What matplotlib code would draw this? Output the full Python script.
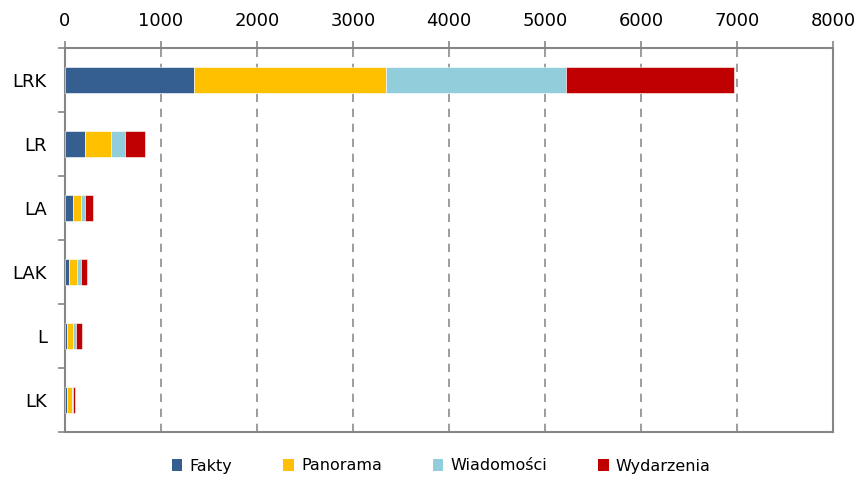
import matplotlib
matplotlib.use("Agg")
import matplotlib.pyplot as plt
from matplotlib.patches import Patch
import numpy as np

categories = ["LRK", "LR", "LA", "LAK", "L", "LK"]
series_names = ["Fakty", "Panorama", "Wiadomości", "Wydarzenia"]
fakty = [1340, 210, 85, 42, 18, 18]
panorama = [2000, 270, 85, 86, 69, 52]
wiadomosci = [1880, 140, 40, 42, 24, 14]
wydarzenia = [1750, 215, 80, 62, 62, 20]
colors = ["#365F91", "#FFC000", "#92CDDC", "#C00000"]
xticks = [0, 1000, 2000, 3000, 4000, 5000, 6000, 7000, 8000]

plt.rcParams['font.family'] = ['DejaVu Sans']
fig = plt.figure(figsize=(8.62, 4.78), dpi=100)
ax = fig.add_axes([65/862, 1 - 432/478, (833-65)/862, (432-48)/478])

y = np.arange(len(categories))
left = np.zeros(len(categories))
for vals, c, name in zip([fakty, panorama, wiadomosci, wydarzenia], colors, series_names):
    ax.barh(y, vals, left=left, height=0.4, color=c, edgecolor="white", linewidth=0.4, label=name, zorder=3)
    left += np.array(vals)

ax.set_ylim(len(categories) - 0.5, -0.5)
ax.set_xlim(0, 8000)
ax.set_xticks(xticks)
ax.set_xticklabels([str(v) for v in xticks], fontsize=13)
ax.xaxis.tick_top()
ax.tick_params(axis='x', direction='out', length=5, color='#868686', pad=8, width=1.2)
ax.set_yticks(y)
ax.set_yticklabels(categories, fontsize=13)
ax.tick_params(axis='y', length=0, pad=13)
ax.set_yticks(np.arange(-0.5, len(categories), 1), minor=True)
ax.tick_params(axis='y', which='minor', length=5, color='#868686', width=1.2)

ax.grid(axis='x', color='#8C8C8C', linestyle=(0, (5, 4)), linewidth=1.2, zorder=0)
for s in ax.spines.values():
    s.set_color('#868686')
    s.set_linewidth(1.5)

handles = [Patch(facecolor=c, edgecolor='none', label=n) for c, n in zip(colors, series_names)]
fig.legend(handles=handles, loc='center', bbox_to_anchor=(0.512, 1 - 466/478), ncol=4, frameon=False,
           fontsize=11.5, handlelength=0.65, handleheight=0.75, handletextpad=0.45, columnspacing=3.2)

fig.savefig("out.png", dpi=100)
